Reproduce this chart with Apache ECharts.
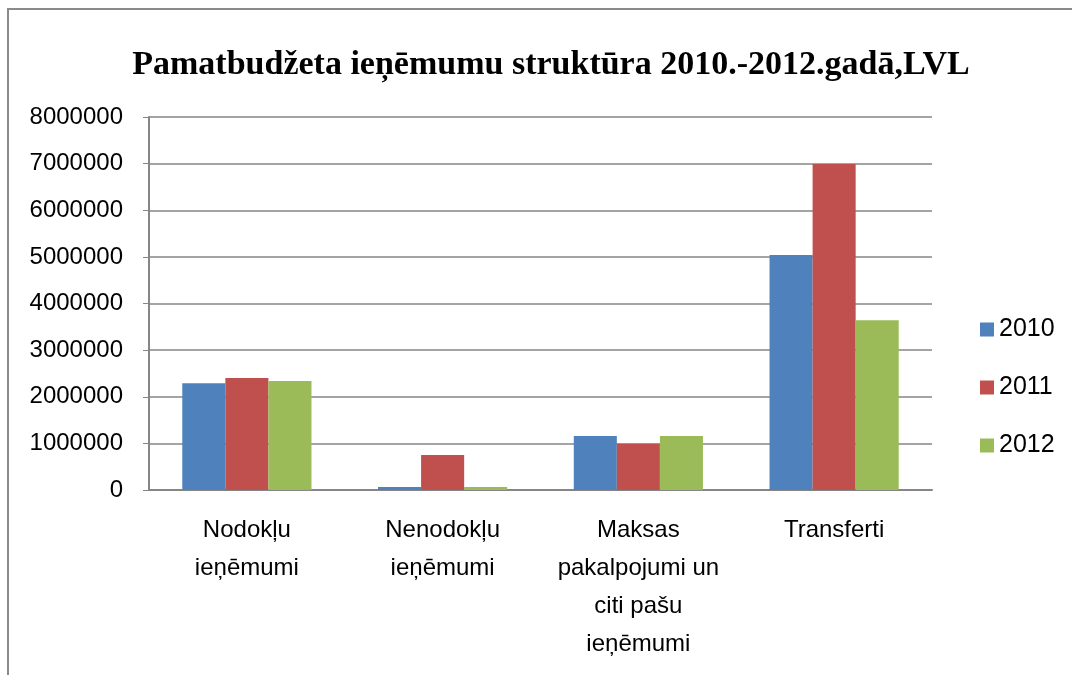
<!DOCTYPE html>
<html>
<head>
<meta charset="utf-8">
<script src="https://cdn.jsdelivr.net/npm/echarts@6/dist/echarts.min.js"></script>
<style>
  html, body { margin: 0; padding: 0; background: #fff; }
  #chart { width: 1072px; height: 675px; }
</style>
</head>
<body>
<div id="chart"></div>
<script>
const categories = ['Nodokļu\nieņēmumi', 'Nenodokļu\nieņēmumi', 'Maksas\npakalpojumi un\nciti pašu\nieņēmumi', 'Transferti']
const years = ['2010', '2011', '2012']
const values2010 = [2290000, 65000, 1160000, 5040000]
const values2011 = [2400000, 750000, 990000, 6990000]
const values2012 = [2340000, 65000, 1160000, 3640000]
const colors = ['#4F81BD', '#C0504D', '#9BBB59']

let myChart = echarts.init(document.getElementById('chart'))
myChart.setOption({
    animation: false,
    color: colors,
    title: {
        text: 'Pamatbudžeta ieņēmumu struktūra 2010.-2012.gadā,LVL',
        left: 546,
        top: 43,
        textAlign: 'center',
        textStyle: {
            fontFamily: 'Liberation Serif',
            fontWeight: 'bold',
            fontSize: 34,
            color: '#000'
        }
    },
    legend: {
        orient: 'vertical',
        left: 975,
        top: 312,
        itemWidth: 14,
        itemHeight: 14,
        itemGap: 33,
        icon: 'rect',
        data: years,
        textStyle: { fontFamily: 'Liberation Sans', fontSize: 25, color: '#000' }
    },
    grid: {
        left: 149,
        right: 140,
        top: 117,
        bottom: 185
    },
    graphic: [{
        type: 'rect',
        shape: { x: 8, y: 9, width: 1100, height: 700 },
        style: { fill: 'none', stroke: '#8a8a8a', lineWidth: 2 }
    }],
    xAxis: {
        type: 'category',
        data: categories,
        axisLine: { lineStyle: { color: '#868686', width: 2 } },
        axisTick: { show: false },
        axisLabel: {
            interval: 0,
            margin: 21,
            fontFamily: 'Liberation Sans',
            fontSize: 24,
            lineHeight: 38,
            color: '#000'
        }
    },
    yAxis: {
        type: 'value',
        min: 0,
        max: 8000000,
        interval: 1000000,
        axisLine: { show: true, lineStyle: { color: '#868686', width: 2 } },
        axisTick: { show: true, length: 6, lineStyle: { color: '#868686' } },
        splitLine: { lineStyle: { color: '#868686', width: 1.5 } },
        axisLabel: {
            margin: 26,
            fontFamily: 'Liberation Sans',
            fontSize: 24,
            color: '#000',
            formatter: function (v) { return String(v) }
        }
    },
    series: [
        { name: '2010', type: 'bar', data: values2010, barGap: '0%', barCategoryGap: '34%' },
        { name: '2011', type: 'bar', data: values2011, barGap: '0%', barCategoryGap: '34%' },
        { name: '2012', type: 'bar', data: values2012, barGap: '0%', barCategoryGap: '34%' }
    ]
})
window.addEventListener('resize', function () {
    myChart.resize()
})
</script>
</body>
</html>
